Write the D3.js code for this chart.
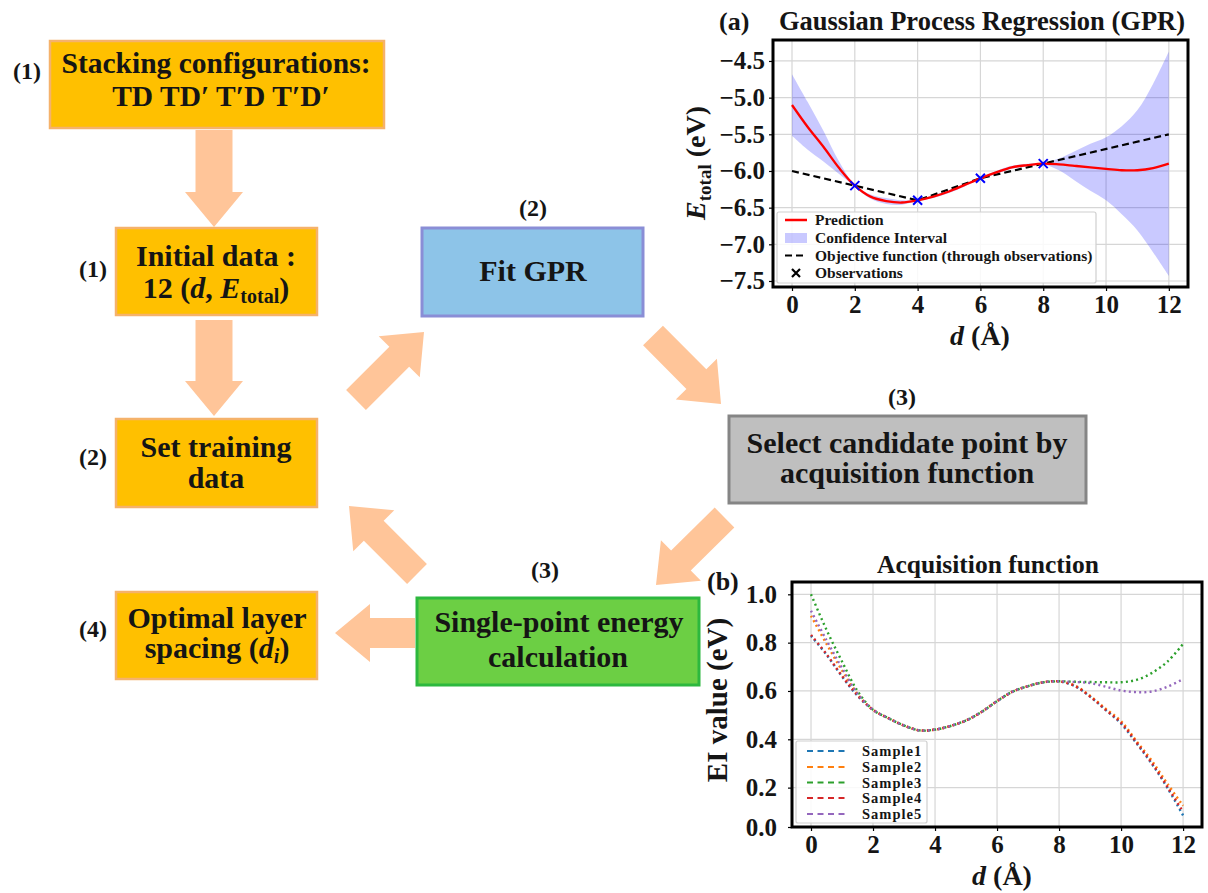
<!DOCTYPE html>
<html>
<head>
<meta charset="utf-8">
<script src="https://cdn.jsdelivr.net/npm/d3@7"></script>
<style>
  body { margin: 0; background: #fff; }
  svg text { font-family: "Liberation Serif", "Times New Roman", serif; font-weight: bold; fill: #151515; }
</style>
</head>
<body>
<svg id="fig" width="1208" height="893"></svg>
<script>
// ---------- (a) Gaussian process regression ----------
const dGrid = [0, 0.5, 1, 1.5, 2, 2.5, 3, 3.5, 4, 4.5, 5, 5.5, 6, 6.5, 7, 7.5, 8, 8.5, 9, 9.5, 10, 10.5, 11, 11.5, 12];
const gprMean  = [-5.10, -5.40, -5.67, -5.96, -6.20, -6.35, -6.41, -6.43, -6.40, -6.35, -6.28, -6.19, -6.10, -6.02, -5.95, -5.92, -5.90, -5.91, -5.93, -5.95, -5.97, -5.99, -5.99, -5.96, -5.90];
const gprUpper = [-4.68, -5.06, -5.45, -5.87, -6.19, -6.32, -6.37, -6.40, -6.39, -6.33, -6.26, -6.17, -6.09, -6.00, -5.93, -5.90, -5.89, -5.83, -5.73, -5.63, -5.54, -5.39, -5.17, -4.81, -4.37];
const gprLower = [-5.52, -5.71, -5.87, -6.04, -6.21, -6.38, -6.45, -6.46, -6.41, -6.37, -6.30, -6.21, -6.11, -6.04, -5.97, -5.94, -5.91, -5.99, -6.13, -6.27, -6.40, -6.59, -6.81, -7.11, -7.43];
const objD = [0, 2, 4, 6, 8, 12];
const objE = [-6.0, -6.2, -6.4, -6.1, -5.9, -5.5];
const obsD = [2, 4, 6, 8];
const obsE = [-6.2, -6.4, -6.1, -5.9];
const dTicks = [0, 2, 4, 6, 8, 10, 12];
const eTicks = [-4.5, -5.0, -5.5, -6.0, -6.5, -7.0, -7.5];
const gprLegend = ["Prediction", "Confidence Interval", "Objective function (through observations)", "Observations"];

// ---------- (b) Expected improvement for five samples ----------
const sampleNames = ["Sample1", "Sample2", "Sample3", "Sample4", "Sample5"];
const sampleColors = ["#1f77b4", "#ff7f0e", "#2ca02c", "#d62728", "#9467bd"];
const eiSample1 = [0.828, 0.750, 0.660, 0.580, 0.522, 0.487, 0.457, 0.437, 0.440, 0.455, 0.478, 0.513, 0.558, 0.597, 0.620, 0.636, 0.640, 0.621, 0.577, 0.522, 0.465, 0.383, 0.297, 0.198, 0.085];
const eiSample2 = [0.911, 0.795, 0.685, 0.588, 0.522, 0.487, 0.457, 0.437, 0.440, 0.455, 0.478, 0.513, 0.558, 0.597, 0.620, 0.636, 0.640, 0.623, 0.580, 0.527, 0.475, 0.392, 0.310, 0.215, 0.125];
const eiSample3 = [1.000, 0.853, 0.722, 0.600, 0.522, 0.487, 0.457, 0.437, 0.440, 0.455, 0.478, 0.513, 0.558, 0.597, 0.620, 0.636, 0.640, 0.638, 0.637, 0.636, 0.636, 0.646, 0.675, 0.722, 0.795];
const eiSample4 = [0.832, 0.752, 0.662, 0.582, 0.522, 0.487, 0.457, 0.437, 0.440, 0.455, 0.478, 0.513, 0.558, 0.597, 0.620, 0.636, 0.640, 0.621, 0.577, 0.522, 0.468, 0.386, 0.300, 0.202, 0.100];
const eiSample5 = [0.932, 0.810, 0.695, 0.590, 0.522, 0.487, 0.457, 0.437, 0.440, 0.455, 0.478, 0.513, 0.558, 0.597, 0.620, 0.636, 0.640, 0.637, 0.633, 0.618, 0.602, 0.595, 0.598, 0.618, 0.649];
const eiTicks = [0.0, 0.2, 0.4, 0.6, 0.8, 1.0];

const svg = d3.select("#fig");

// ---------- flowchart ----------
const arrowFill = "#FFC599";
function arrowPoints(x1, y1, x2, y2, sw, hw, hl) {
  const L = Math.hypot(x2 - x1, y2 - y1), ux = (x2 - x1) / L, uy = (y2 - y1) / L;
  const px = -uy, py = ux, bx = x2 - ux * hl, by = y2 - uy * hl;
  return [
    [x1 + px * sw / 2, y1 + py * sw / 2], [bx + px * sw / 2, by + py * sw / 2],
    [bx + px * hw / 2, by + py * hw / 2], [x2, y2],
    [bx - px * hw / 2, by - py * hw / 2], [bx - px * sw / 2, by - py * sw / 2],
    [x1 - px * sw / 2, y1 - py * sw / 2]
  ];
}
const arrows = [
  [214, 130, 214, 227, 37, 58, 35],
  [214, 320, 214, 416, 37, 58, 35],
  [415, 633, 335, 633, 30, 58, 35],
  [356, 400, 424, 332, 28, 58, 35],
  [653, 335.5, 721, 404, 28, 58, 35],
  [724.5, 517.5, 656, 585, 28, 57, 35],
  [417, 574, 349, 506, 28, 58, 35]
];
svg.append("g").selectAll("polygon").data(arrows).join("polygon")
  .attr("points", a => arrowPoints(...a).map(p => p.join(",")).join(" "))
  .attr("fill", arrowFill);

const boxes = [
  {x: 50, y: 41, w: 334, h: 87, fill: "#FFC000", stroke: "#F5B26B", sw: 2.5},
  {x: 116, y: 228, w: 201, h: 87, fill: "#FFC000", stroke: "#F5B26B", sw: 2.5},
  {x: 116, y: 419, w: 201, h: 88, fill: "#FFC000", stroke: "#F5B26B", sw: 2.5},
  {x: 116, y: 592, w: 201, h: 87, fill: "#FFC000", stroke: "#F5B26B", sw: 2.5},
  {x: 422, y: 228, w: 221, h: 88, fill: "#8DC4E8", stroke: "#8A8ED6", sw: 3},
  {x: 729, y: 416, w: 357, h: 87, fill: "#BFBFBF", stroke: "#858585", sw: 3},
  {x: 417, y: 598, w: 282, h: 87, fill: "#6CCF44", stroke: "#2DB83E", sw: 3}
];
svg.append("g").selectAll("rect").data(boxes).join("rect")
  .attr("x", d => d.x).attr("y", d => d.y).attr("width", d => d.w).attr("height", d => d.h)
  .attr("fill", d => d.fill).attr("stroke", d => d.stroke).attr("stroke-width", d => d.sw);

// each line: [cx, baseline, font size, parts]; a part is [text, style]
const boxLines = [
  [216, 73, 29.5, [["Stacking configurations:", ""]]],
  [221, 106, 29.5, [["TD TD\u2032 T\u2032D T\u2032D\u2032", ""]]],
  [216, 266, 30, [["Initial data :", ""]]],
  [216, 298, 30, [["12 (", ""], ["d", "i"], [", ", ""], ["E", "i"], ["total", "sub"], [")", "up"]]],
  [216, 457, 30, [["Set training", ""]]],
  [216, 488, 30, [["data", ""]]],
  [217, 628, 30, [["Optimal layer", ""]]],
  [217, 658, 30, [["spacing (", ""], ["d", "i"], ["i", "isub"], [")", "up"]]],
  [533, 281, 30, [["Fit GPR", ""]]],
  [907, 453, 30, [["Select candidate point by", ""]]],
  [907, 483, 30, [["acquisition function", ""]]],
  [559, 632, 30, [["Single-point energy", ""]]],
  [558, 667, 30, [["calculation", ""]]]
];
const gLines = svg.append("g");
boxLines.forEach(([cx, by, fs, parts]) => {
  const t = gLines.append("text").attr("x", cx).attr("y", by)
    .attr("text-anchor", "middle").attr("font-size", fs);
  parts.forEach(([s, st]) => {
    const sp = t.append("tspan").text(s);
    if (st === "i") sp.attr("font-style", "italic");
    if (st === "sub") sp.attr("font-size", 20).attr("dy", 5);
    if (st === "isub") sp.attr("font-size", 20).attr("dy", 5).attr("font-style", "italic");
    if (st === "up") sp.attr("dy", -5);
  });
});

const stepLabels = [
  [27, 79, "(1)"], [93, 277, "(1)"], [93, 465, "(2)"], [93, 637, "(4)"],
  [533, 216, "(2)"], [902, 405, "(3)"], [545, 578, "(3)"]
];
svg.append("g").selectAll("text").data(stepLabels).join("text")
  .attr("x", d => d[0]).attr("y", d => d[1]).attr("text-anchor", "middle")
  .attr("font-size", 24).text(d => d[2]);

// ---------- shared chart helpers ----------
function styleAxis(g, fs) {
  g.select(".domain").remove();
  g.selectAll(".tick line").attr("stroke", "#000").attr("stroke-width", 1.2);
  g.selectAll(".tick text").attr("font-size", fs)
    .attr("font-family", "'Liberation Serif', 'Times New Roman', serif")
    .attr("font-weight", "bold").attr("fill", "#151515");
}

// ---------- panel (a) ----------
{
  const L = 773, R = 1188, T = 40, B = 287;
  const x = d3.scaleLinear().domain([-0.605, 12.61]).range([L, R]);
  const y = d3.scaleLinear().domain([-7.582, -4.214]).range([B, T]);
  const g = svg.append("g");

  g.append("g").selectAll("line.vx").data(dTicks).join("line")
    .attr("x1", d => x(d)).attr("x2", d => x(d)).attr("y1", T).attr("y2", B)
    .attr("stroke", "#d6d6d6").attr("stroke-width", 1.2);
  g.append("g").selectAll("line.hy").data(eTicks).join("line")
    .attr("y1", d => y(d)).attr("y2", d => y(d)).attr("x1", L).attr("x2", R)
    .attr("stroke", "#d6d6d6").attr("stroke-width", 1.2);

  const idx = d3.range(dGrid.length);
  g.append("path").datum(idx)
    .attr("d", d3.area().x(i => x(dGrid[i])).y0(i => y(gprLower[i])).y1(i => y(gprUpper[i])).curve(d3.curveCatmullRom))
    .attr("fill", "#0000ff").attr("fill-opacity", 0.21);
  g.append("path")
    .attr("d", d3.line().x(i => x(objD[i])).y(i => y(objE[i]))(d3.range(objD.length)))
    .attr("fill", "none").attr("stroke", "#000").attr("stroke-width", 2.2).attr("stroke-dasharray", "7,4");
  g.append("path").datum(idx)
    .attr("d", d3.line().x(i => x(dGrid[i])).y(i => y(gprMean[i])).curve(d3.curveCatmullRom))
    .attr("fill", "none").attr("stroke", "#ff0000").attr("stroke-width", 2.3);
  const m = 4.5;
  g.append("g").selectAll("path").data(d3.range(obsD.length)).join("path")
    .attr("d", i => { const cx = x(obsD[i]), cy = y(obsE[i]);
      return `M${cx - m},${cy - m}L${cx + m},${cy + m}M${cx - m},${cy + m}L${cx + m},${cy - m}`; })
    .attr("stroke", "#0000ff").attr("stroke-width", 2).attr("fill", "none");

  // legend
  const lg = g.append("g");
  lg.append("rect").attr("x", 777).attr("y", 212).attr("width", 319).attr("height", 71).attr("rx", 2)
    .attr("fill", "#fff").attr("fill-opacity", 0.85).attr("stroke", "#cfcfcf").attr("stroke-width", 1.2);
  const rows = [220, 238, 255.5, 273];
  lg.append("line").attr("x1", 785).attr("x2", 807).attr("y1", rows[0]).attr("y2", rows[0])
    .attr("stroke", "#ff0000").attr("stroke-width", 2.5);
  lg.append("rect").attr("x", 785).attr("y", rows[1] - 5).attr("width", 22).attr("height", 10)
    .attr("fill", "#0000ff").attr("fill-opacity", 0.21);
  lg.append("line").attr("x1", 785).attr("x2", 807).attr("y1", rows[2]).attr("y2", rows[2])
    .attr("stroke", "#000").attr("stroke-width", 2.2).attr("stroke-dasharray", "7,4");
  lg.append("path").attr("d", `M${796 - 4},${rows[3] - 4}L${796 + 4},${rows[3] + 4}M${796 - 4},${rows[3] + 4}L${796 + 4},${rows[3] - 4}`)
    .attr("stroke", "#000").attr("stroke-width", 2.2);
  lg.selectAll("text").data(gprLegend).join("text")
    .attr("x", 815).attr("y", (d, i) => rows[i] + 5).attr("font-size", 15.5).text(d => d);

  const ax = g.append("g").attr("transform", `translate(0,${B})`)
    .call(d3.axisBottom(x).tickValues(dTicks).tickFormat(d3.format("d")).tickSize(4).tickPadding(4));
  styleAxis(ax, 25);
  const ay = g.append("g").attr("transform", `translate(${L},0)`)
    .call(d3.axisLeft(y).tickValues(eTicks).tickFormat(d3.format(".1f")).tickSize(4).tickPadding(4));
  styleAxis(ay, 25);

  g.append("rect").attr("x", L).attr("y", T).attr("width", R - L).attr("height", B - T)
    .attr("fill", "none").attr("stroke", "#000").attr("stroke-width", 3);

  g.append("text").attr("x", 719).attr("y", 30).attr("font-size", 26).text("(a)");
  g.append("text").attr("x", 982).attr("y", 30).attr("text-anchor", "middle").attr("font-size", 26.5)
    .text("Gaussian Process Regression (GPR)");
  const xl = g.append("text").attr("x", 980).attr("y", 345).attr("text-anchor", "middle").attr("font-size", 28);
  xl.append("tspan").attr("font-style", "italic").text("d");
  xl.append("tspan").text(" (\u00C5)");
  const yl = g.append("text").attr("transform", "translate(705,163) rotate(-90)")
    .attr("text-anchor", "middle").attr("font-size", 28);
  yl.append("tspan").attr("font-style", "italic").text("E");
  yl.append("tspan").attr("font-size", 19).attr("dy", 6).text("total");
  yl.append("tspan").attr("dy", -6).text(" (eV)");
}

// ---------- panel (b) ----------
{
  const L = 792, R = 1202, T = 582, B = 827;
  const x = d3.scaleLinear().domain([-0.613, 12.61]).range([L, R]);
  const y = d3.scaleLinear().domain([0.037, 1.051]).range([B, T]).clamp(true);
  const g = svg.append("g");
  const series = [eiSample1, eiSample2, eiSample3, eiSample4, eiSample5];

  g.append("g").selectAll("line").data(dTicks).join("line")
    .attr("x1", d => x(d)).attr("x2", d => x(d)).attr("y1", T).attr("y2", B)
    .attr("stroke", "#d6d6d6").attr("stroke-width", 1.2);
  g.append("g").selectAll("line").data(eiTicks.filter(v => v > 0)).join("line")
    .attr("y1", d => y(d)).attr("y2", d => y(d)).attr("x1", L).attr("x2", R)
    .attr("stroke", "#d6d6d6").attr("stroke-width", 1.2);

  const line = d3.line().x((v, i) => x(dGrid[i])).y(v => y(v)).curve(d3.curveCatmullRom);
  g.append("g").selectAll("path").data(series).join("path")
    .attr("d", s => line(s)).attr("fill", "none")
    .attr("stroke", (s, i) => sampleColors[i]).attr("stroke-width", 2.4)
    .attr("stroke-dasharray", "2,3.2");

  const lg = g.append("g");
  lg.append("rect").attr("x", 796).attr("y", 741).attr("width", 131).attr("height", 82).attr("rx", 2)
    .attr("fill", "#fff").attr("fill-opacity", 0.85).attr("stroke", "#cfcfcf").attr("stroke-width", 1.2);
  const rows = [751, 767, 782.5, 798, 814];
  lg.selectAll("line").data(sampleNames).join("line")
    .attr("x1", 807).attr("x2", 848).attr("y1", (d, i) => rows[i]).attr("y2", (d, i) => rows[i])
    .attr("stroke", (d, i) => sampleColors[i]).attr("stroke-width", 2.2).attr("stroke-dasharray", "6,4.5");
  lg.selectAll("text").data(sampleNames).join("text")
    .attr("x", 862).attr("y", (d, i) => rows[i] + 5).attr("font-size", 14.5).attr("letter-spacing", 1)
    .text(d => d);

  const ax = g.append("g").attr("transform", `translate(0,${B})`)
    .call(d3.axisBottom(x).tickValues(dTicks).tickFormat(d3.format("d")).tickSize(4).tickPadding(4));
  styleAxis(ax, 25);
  const ay = g.append("g").attr("transform", `translate(${L},0)`)
    .call(d3.axisLeft(y).tickValues(eiTicks).tickFormat(d3.format(".1f")).tickSize(4).tickPadding(11));
  styleAxis(ay, 25);

  g.append("rect").attr("x", L).attr("y", T).attr("width", R - L).attr("height", B - T)
    .attr("fill", "none").attr("stroke", "#000").attr("stroke-width", 3);

  g.append("text").attr("x", 988).attr("y", 573).attr("text-anchor", "middle").attr("font-size", 25.5)
    .text("Acquisition function");
  g.append("text").attr("x", 707).attr("y", 590).attr("font-size", 26).text("(b)");
  const xl = g.append("text").attr("x", 1002).attr("y", 885).attr("text-anchor", "middle").attr("font-size", 28);
  xl.append("tspan").attr("font-style", "italic").text("d");
  xl.append("tspan").text(" (\u00C5)");
  g.append("text").attr("transform", "translate(727,700) rotate(-90)")
    .attr("text-anchor", "middle").attr("font-size", 29).text("EI value (eV)");
}
</script>
</body>
</html>
